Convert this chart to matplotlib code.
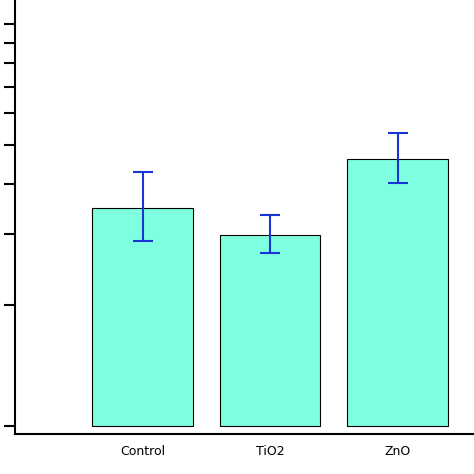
import matplotlib
matplotlib.use("Agg")
import matplotlib.pyplot as plt
import numpy as np

categories = ["Control", "TiO2", "ZnO"]
values = [3.49, 2.99, 4.61]
err_low = [2.89, 2.69, 4.02]
err_high = [4.28, 3.35, 5.36]

fig = plt.figure(figsize=(4.74, 4.74), dpi=100)
ax = fig.add_axes([15/474, 40/474, 459/474, 434/474])
x = np.arange(len(categories))
ax.bar(x, [v - 1 for v in values], bottom=1, width=0.79, color="#7fffe0", edgecolor="black", linewidth=0.8)
yerr = [np.array(values) - np.array(err_low), np.array(err_high) - np.array(values)]
ax.errorbar(x, values, yerr=yerr, fmt="none", ecolor="#1a35d6", elinewidth=1.5, capsize=7, capthick=1.5)
ax.set_yscale("log")
ax.set_ylim(0.955, 11.5)
ax.set_xlim(-1.0, 2.6)
ax.set_yticks(range(1, 11))
ax.set_yticklabels([])
ax.yaxis.set_minor_locator(matplotlib.ticker.NullLocator())
ax.set_xticks(x)
ax.set_xticklabels(categories, fontsize=9)
ax.tick_params(axis="x", length=0, pad=8)
ax.tick_params(axis="y", length=8, width=1.5)
for s in ["top", "right"]:
    ax.spines[s].set_visible(False)
ax.spines["left"].set_linewidth(1.5)
ax.spines["bottom"].set_linewidth(1.5)
fig.savefig("out.png", dpi=100)
